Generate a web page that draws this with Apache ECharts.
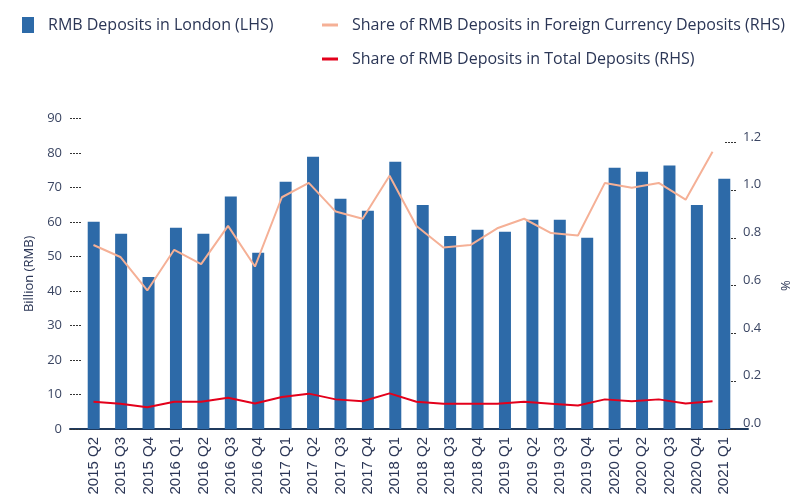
<!DOCTYPE html>
<html>
<head>
<meta charset="utf-8">
<script src="https://cdn.jsdelivr.net/npm/echarts@6/dist/echarts.min.js"></script>
<style>
  body { margin: 0; background: #fff; }
  #the-echart { width: 801px; height: 502px; }
</style>
</head>
<body>
<div id="the-echart"></div>
<script>
// quarters on the category axis
let quarters = [
  '2015 Q2', '2015 Q3', '2015 Q4', '2016 Q1', '2016 Q2', '2016 Q3', '2016 Q4',
  '2017 Q1', '2017 Q2', '2017 Q3', '2017 Q4', '2018 Q1', '2018 Q2', '2018 Q3',
  '2018 Q4', '2019 Q1', '2019 Q2', '2019 Q3', '2019 Q4', '2020 Q1', '2020 Q2',
  '2020 Q3', '2020 Q4', '2021 Q1'
]
// billion RMB (LHS)
let depositsLondon = [
  60.1, 56.6, 44.1, 58.4, 56.6, 67.4, 51.1, 71.7, 79.0, 66.8, 63.3, 77.5,
  65.0, 56.0, 57.8, 57.2, 60.7, 60.7, 55.5, 75.8, 74.6, 76.4, 65.0, 72.6
]
// % (RHS)
let shareForeign = [
  0.77, 0.72, 0.58, 0.75, 0.69, 0.85, 0.68, 0.97, 1.03, 0.91, 0.88, 1.06,
  0.85, 0.76, 0.77, 0.84, 0.88, 0.82, 0.81, 1.03, 1.01, 1.03, 0.96, 1.16
]
let shareTotal = [
  0.114, 0.106, 0.091, 0.114, 0.114, 0.131, 0.107, 0.134, 0.148, 0.124, 0.116, 0.149,
  0.114, 0.106, 0.106, 0.106, 0.114, 0.106, 0.098, 0.124, 0.116, 0.124, 0.107, 0.116
]
let leftTicks = {min: 0, max: 90, interval: 10}
let rightTicks = {min: 0, max: 1.2, interval: 0.2}

let textColor = '#2b3656'
let font = 'Open Sans'

let chart = echarts.init(document.getElementById('the-echart'))
chart.setOption({
  animation: false,
  textStyle: {fontFamily: font},
  legend: [
    {
      data: ['RMB Deposits in London (LHS)'],
      left: 17,
      top: 12,
      icon: 'rect',
      itemWidth: 12,
      itemHeight: 16,
      textStyle: {color: textColor, fontSize: 16, fontFamily: font, padding: [0, 0, 0, 9]}
    },
    {
      data: ['Share of RMB Deposits in Foreign Currency Deposits (RHS)', 'Share of RMB Deposits in Total Deposits (RHS)'],
      orient: 'vertical',
      left: 317,
      top: 12,
      icon: 'rect',
      itemWidth: 16,
      itemHeight: 3,
      itemGap: 18,
      textStyle: {color: textColor, fontSize: 16, fontFamily: font, padding: [0, 0, 0, 9]}
    }
  ],
  grid: [
    {left: 80, right: 63, top: 118.7, bottom: 73},
    {left: 80, right: 63, top: 142.3, bottom: 73},
    {left: 70, right: 53, top: 118.7, bottom: 73}
  ],
  xAxis: [
    {
      type: 'category',
      gridIndex: 0,
      data: quarters,
      axisLine: {show: false},
      axisTick: {show: false},
      axisLabel: {
        rotate: 90,
        interval: 0,
        margin: 8,
        color: textColor,
        fontSize: 15,
        fontFamily: 'Liberation Sans'
      }
    },
    {
      type: 'category',
      gridIndex: 1,
      data: quarters,
      show: false
    },
    {
      type: 'category',
      gridIndex: 2,
      data: [''],
      axisLine: {lineStyle: {color: '#1f3a5e', width: 2}},
      axisTick: {show: false},
      axisLabel: {show: false}
    }
  ],
  yAxis: [
    {
      type: 'value',
      gridIndex: 0,
      min: leftTicks.min,
      max: leftTicks.max,
      interval: leftTicks.interval,
      offset: 10,
      name: 'Billion (RMB)',
      nameLocation: 'middle',
      nameRotate: 90,
      nameGap: 29,
      nameTextStyle: {color: textColor, fontSize: 13, fontFamily: font},
      axisLine: {show: false},
      axisTick: {show: true, inside: true, length: 12, lineStyle: {color: '#333', type: [2, 1]}},
      axisLabel: {color: '#3b4663', fontSize: 13, margin: 8},
      splitLine: {show: false}
    },
    {
      type: 'value',
      gridIndex: 1,
      position: 'right',
      min: rightTicks.min,
      max: rightTicks.max,
      interval: rightTicks.interval,
      offset: 10,
      name: '%',
      nameLocation: 'middle',
      nameRotate: 90,
      nameGap: 44,
      nameTextStyle: {color: textColor, fontSize: 13, fontFamily: font},
      axisLine: {show: false},
      axisTick: {show: true, inside: true, length: 12, lineStyle: {color: '#333', type: [2, 1]}},
      axisLabel: {
        color: '#3b4663',
        fontSize: 13,
        margin: 7,
        verticalAlign: 'bottom',
        lineHeight: 11,
        formatter: function(v) { return v.toFixed(1) }
      },
      splitLine: {show: false}
    },
    {
      type: 'value',
      gridIndex: 2,
      show: false
    }
  ],
  series: [
    {
      name: 'RMB Deposits in London (LHS)',
      type: 'bar',
      xAxisIndex: 0,
      yAxisIndex: 0,
      data: depositsLondon,
      barWidth: 12,
      itemStyle: {color: '#2d6aa8'}
    },
    {
      name: 'Share of RMB Deposits in Foreign Currency Deposits (RHS)',
      type: 'line',
      xAxisIndex: 1,
      yAxisIndex: 1,
      data: shareForeign,
      symbol: 'none',
      lineStyle: {color: '#f5b096', width: 2},
      itemStyle: {color: '#f5b096'}
    },
    {
      name: 'Share of RMB Deposits in Total Deposits (RHS)',
      type: 'line',
      xAxisIndex: 1,
      yAxisIndex: 1,
      data: shareTotal,
      symbol: 'none',
      lineStyle: {color: '#e3001b', width: 2},
      itemStyle: {color: '#e3001b'}
    }
  ]
})
</script>
</body>
</html>
